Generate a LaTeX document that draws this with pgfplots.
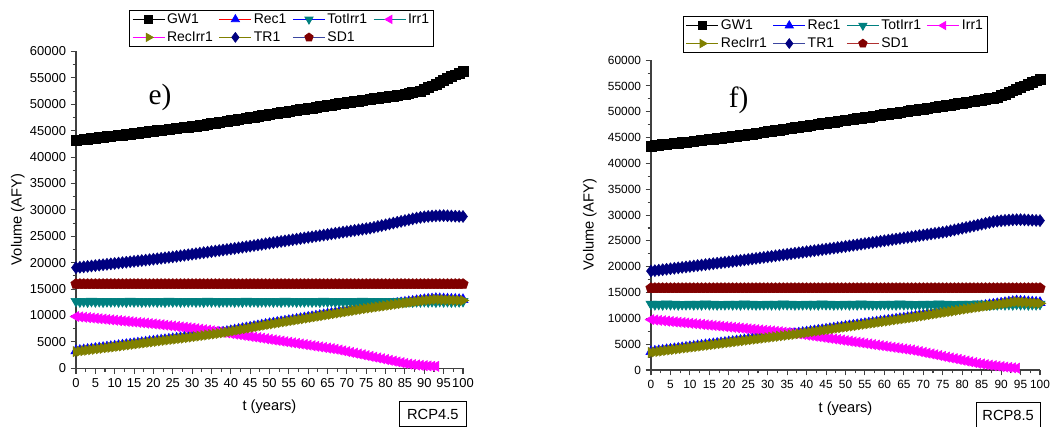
\documentclass[border=0pt]{standalone}
\usepackage{pgfplots}
\pgfplotsset{compat=1.18}
\usepackage{pgfplotstable}
\usepackage{fontspec}
\setmainfont{Liberation Sans}
\newfontfamily\seriffont{Liberation Serif}

\definecolor{cTeal}{HTML}{008080}
\definecolor{cMag}{HTML}{FF00FF}
\definecolor{cOlive}{HTML}{808000}
\definecolor{cNavy}{HTML}{000080}
\definecolor{cWine}{HTML}{800000}
\definecolor{cSlate}{HTML}{3C46A0}
\definecolor{cBrick}{HTML}{B03030}
\definecolor{cAxis}{HTML}{404040}

% RCP4.5 scenario, yearly values (AFY)
\pgfplotstableread{
t GW Rec Tot Irr RecIrr TR SD
0 43200 3300 12700 9800 3150 19050 15950
1 43280 3390 12620 9730 3240 19130 15950
2 43370 3480 12680 9660 3330 19210 15950
3 43450 3570 12600 9590 3420 19290 15950
4 43530 3660 12720 9520 3510 19370 15950
5 43620 3750 12640 9450 3600 19450 15950
6 43700 3840 12690 9380 3690 19530 15950
7 43780 3930 12610 9310 3780 19610 15950
8 43870 4020 12670 9240 3870 19690 15950
9 43950 4110 12650 9170 3960 19770 15950
10 44030 4200 12700 9100 4050 19850 15950
11 44120 4300 12620 9030 4150 19930 15950
12 44200 4390 12680 8960 4240 20010 15950
13 44280 4490 12600 8890 4340 20090 15950
14 44370 4580 12720 8820 4430 20170 15950
15 44450 4680 12640 8750 4530 20250 15950
16 44540 4770 12690 8680 4620 20330 15950
17 44630 4870 12610 8610 4720 20410 15950
18 44720 4960 12670 8540 4810 20490 15950
19 44810 5060 12650 8470 4910 20570 15950
20 44900 5150 12700 8400 5000 20650 15950
21 45000 5240 12620 8320 5090 20740 15950
22 45090 5330 12680 8240 5180 20830 15950
23 45180 5420 12600 8160 5270 20920 15950
24 45270 5510 12720 8080 5360 21010 15950
25 45360 5600 12640 8000 5450 21100 15950
26 45450 5690 12690 7920 5540 21200 15950
27 45540 5780 12610 7840 5630 21300 15950
28 45630 5870 12670 7760 5720 21400 15950
29 45720 5960 12650 7680 5810 21500 15950
30 45810 6050 12700 7600 5900 21600 15950
31 45900 6150 12620 7500 6000 21700 15950
32 46000 6250 12680 7400 6100 21800 15950
33 46100 6350 12600 7300 6200 21900 15950
34 46210 6450 12720 7200 6300 22000 15950
35 46330 6550 12640 7100 6400 22100 15950
36 46440 6650 12690 7000 6500 22200 15950
37 46560 6750 12610 6900 6600 22300 15950
38 46680 6850 12670 6800 6700 22400 15950
39 46790 6980 12650 6690 6830 22500 15950
40 46910 7120 12700 6580 6970 22600 15950
41 47030 7250 12620 6470 7100 22700 15950
42 47140 7380 12680 6360 7230 22810 15950
43 47260 7520 12600 6250 7370 22920 15950
44 47380 7650 12720 6140 7500 23030 15950
45 47490 7780 12640 6030 7630 23140 15950
46 47610 7920 12690 5920 7770 23250 15950
47 47730 8050 12610 5810 7900 23360 15950
48 47840 8180 12670 5700 8030 23470 15950
49 47960 8320 12650 5590 8170 23580 15950
50 48080 8450 12700 5480 8300 23690 15950
51 48190 8570 12620 5370 8420 23800 15950
52 48300 8690 12680 5260 8540 23910 15950
53 48420 8810 12600 5150 8660 24020 15950
54 48530 8930 12720 5040 8780 24130 15950
55 48640 9050 12640 4930 8900 24240 15950
56 48760 9170 12690 4820 9020 24350 15950
57 48870 9290 12610 4710 9140 24460 15950
58 48980 9410 12670 4600 9260 24570 15950
59 49100 9530 12650 4490 9380 24680 15950
60 49210 9650 12700 4380 9500 24790 15950
61 49320 9770 12620 4270 9620 24900 15950
62 49430 9890 12680 4160 9740 25010 15950
63 49550 10010 12600 4050 9860 25120 15950
64 49660 10140 12720 3940 9990 25230 15950
65 49770 10260 12640 3830 10110 25340 15950
66 49890 10380 12690 3720 10230 25450 15950
67 50000 10500 12610 3610 10350 25560 15950
68 50110 10620 12670 3460 10470 25670 15950
69 50210 10740 12650 3310 10590 25780 15950
70 50320 10860 12700 3160 10710 25890 15950
71 50430 10970 12620 3010 10820 26000 15950
72 50530 11090 12680 2860 10940 26110 15950
73 50640 11210 12600 2710 11060 26220 15950
74 50740 11330 12720 2560 11180 26330 15950
75 50850 11450 12640 2410 11300 26440 15950
76 50960 11560 12690 2260 11410 26550 15950
77 51060 11660 12610 2110 11510 26700 15950
78 51170 11770 12670 1960 11620 26860 15950
79 51270 11870 12650 1810 11720 27020 15950
80 51380 11980 12700 1660 11830 27180 15950
81 51490 12080 12620 1510 11930 27340 15950
82 51590 12190 12680 1360 12040 27500 15950
83 51700 12290 12600 1210 12140 27660 15950
84 51800 12400 12720 1060 12250 27820 15950
85 51910 12500 12640 920 12350 27980 15950
86 52060 12600 12690 800 12450 28140 15950
87 52220 12700 12610 700 12550 28300 15950
88 52370 12800 12670 620 12650 28450 15950
89 52530 12900 12650 550 12750 28580 15950
90 52800 13000 12700 490 12850 28680 15950
91 53150 13070 12620 440 12920 28760 15950
92 53500 13130 12680 400 12980 28820 15950
93 53850 13200 12600 370 13050 28870 15950
94 54200 13170 12720 nan 13020 28900 15950
95 54550 13130 12640 nan 12980 28910 15950
96 54900 13100 12690 nan 12950 28880 15950
97 55250 13070 12610 nan 12920 28840 15950
98 55600 13050 12670 nan 12900 28800 15950
99 55950 13020 12650 nan 12870 28770 15950
100 56300 13000 12700 nan 12850 28750 15950
}\rcpfour

% RCP8.5 scenario, yearly values (AFY)
\pgfplotstableread{
t GW Rec Tot Irr RecIrr TR SD
0 43400 3550 12780 9750 3400 19150 15850
1 43480 3640 12700 9680 3490 19240 15850
2 43560 3740 12760 9610 3590 19330 15850
3 43640 3830 12690 9540 3680 19420 15850
4 43720 3930 12800 9460 3780 19510 15850
5 43800 4020 12720 9390 3870 19600 15850
6 43880 4120 12750 9320 3970 19690 15850
7 43960 4210 12680 9250 4060 19780 15850
8 44040 4310 12740 9180 4160 19870 15850
9 44120 4400 12710 9110 4250 19960 15850
10 44200 4500 12780 9040 4350 20050 15850
11 44290 4590 12700 8970 4440 20140 15850
12 44380 4690 12760 8900 4540 20230 15850
13 44480 4780 12690 8830 4630 20320 15850
14 44570 4880 12800 8750 4730 20410 15850
15 44660 4970 12720 8680 4820 20500 15850
16 44760 5070 12750 8610 4920 20590 15850
17 44850 5160 12680 8540 5010 20680 15850
18 44940 5260 12740 8470 5110 20770 15850
19 45030 5350 12710 8400 5200 20860 15850
20 45130 5450 12780 8330 5300 20950 15850
21 45220 5540 12700 8260 5390 21040 15850
22 45310 5640 12760 8190 5490 21130 15850
23 45410 5730 12690 8120 5580 21220 15850
24 45500 5830 12800 8040 5680 21310 15850
25 45610 5920 12720 7970 5770 21410 15850
26 45720 6020 12750 7900 5870 21510 15850
27 45830 6110 12680 7830 5960 21610 15850
28 45940 6210 12740 7760 6060 21710 15850
29 46050 6300 12710 7690 6150 21810 15850
30 46160 6400 12780 7620 6250 21910 15850
31 46270 6490 12700 7550 6340 22010 15850
32 46380 6590 12760 7480 6440 22110 15850
33 46490 6680 12690 7410 6530 22210 15850
34 46600 6780 12800 7330 6630 22310 15850
35 46710 6870 12720 7260 6720 22410 15850
36 46820 6960 12750 7190 6810 22510 15850
37 46930 7050 12680 7100 6900 22610 15850
38 47040 7160 12740 6990 7010 22710 15850
39 47150 7270 12710 6880 7120 22810 15850
40 47260 7370 12780 6770 7220 22910 15850
41 47370 7480 12700 6660 7330 23010 15850
42 47480 7590 12760 6550 7440 23110 15850
43 47590 7700 12690 6450 7550 23210 15850
44 47700 7800 12800 6340 7650 23310 15850
45 47810 7910 12720 6230 7760 23410 15850
46 47920 8020 12750 6120 7870 23510 15850
47 48030 8130 12680 6010 7980 23610 15850
48 48140 8240 12740 5910 8090 23710 15850
49 48250 8340 12710 5800 8190 23820 15850
50 48350 8450 12780 5690 8300 23930 15850
51 48460 8560 12700 5580 8410 24040 15850
52 48570 8670 12760 5470 8520 24150 15850
53 48680 8770 12690 5370 8620 24260 15850
54 48790 8880 12800 5260 8730 24370 15850
55 48900 8990 12720 5150 8840 24480 15850
56 49010 9100 12750 5040 8950 24590 15850
57 49120 9200 12680 4930 9050 24700 15850
58 49230 9310 12740 4830 9160 24810 15850
59 49340 9420 12710 4720 9270 24920 15850
60 49450 9530 12780 4610 9380 25030 15850
61 49560 9630 12700 4500 9480 25140 15850
62 49670 9740 12760 4390 9590 25250 15850
63 49780 9850 12690 4290 9700 25360 15850
64 49890 9960 12800 4180 9810 25470 15850
65 50000 10060 12720 4070 9910 25580 15850
66 50110 10170 12750 3960 10020 25690 15850
67 50220 10280 12680 3870 10130 25800 15850
68 50330 10400 12740 3720 10250 25910 15850
69 50440 10520 12710 3570 10370 26020 15850
70 50550 10630 12780 3410 10480 26130 15850
71 50660 10750 12700 3260 10600 26240 15850
72 50770 10870 12760 3110 10720 26350 15850
73 50880 10990 12690 2960 10840 26460 15850
74 50990 11110 12800 2810 10960 26570 15850
75 51100 11230 12720 2650 11080 26680 15850
76 51220 11350 12750 2500 11200 26800 15850
77 51340 11460 12680 2350 11310 26960 15850
78 51460 11580 12740 2200 11430 27120 15850
79 51580 11700 12710 2050 11550 27280 15850
80 51700 11820 12780 1890 11670 27440 15850
81 51820 11940 12700 1740 11790 27600 15850
82 51940 12060 12760 1590 11910 27760 15850
83 52060 12170 12690 1440 12020 27920 15850
84 52180 12290 12800 1290 12140 28080 15850
85 52300 12400 12720 1170 12250 28240 15850
86 52420 12510 12750 1050 12360 28400 15850
87 52540 12620 12680 940 12470 28560 15850
88 52660 12730 12740 840 12580 28720 15850
89 52800 12840 12710 750 12690 28820 15850
90 53120 12940 12780 660 12790 28900 15850
91 53440 13050 12700 580 12900 28970 15850
92 53760 13160 12760 500 13010 29030 15850
93 54080 13270 12690 420 13120 29080 15850
94 54400 13380 12800 350 13230 29110 15850
95 54720 13330 12720 nan 13180 29110 15850
96 55040 13270 12750 nan 13120 29080 15850
97 55360 13220 12680 nan 13070 29040 15850
98 55680 13170 12740 nan 13020 29000 15850
99 56000 13110 12710 nan 12960 28960 15850
100 56300 13060 12780 nan 12910 28930 15850
}\rcpeight

\pgfplotsset{
  panel/.style={
    scale only axis,
    axis lines=left,
    axis line style={-, line width=1pt, draw=cAxis},
    xmin=0, xmax=100, ymin=0, ymax=60000,
    xtick={0,5,...,100}, ytick={0,5000,...,60000},
    minor x tick num=1, minor y tick num=1,
    tick align=outside,
    major tick length=4pt, minor tick length=2.5pt,
    every tick/.style={draw=cAxis, line width=0.8pt},
    scaled y ticks=false,
    /pgf/number format/1000 sep={},
    /pgf/number format/assume math mode=true,
    clip=false,
    xlabel={t (years)}, ylabel={Volume (AFY)},
    label style={font=\fontsize{11}{13}\selectfont},
    legend columns=4,
    legend cell align=left,
    legend style={draw=black, line width=0.6pt, inner xsep=2pt, inner ysep=0pt,
      font=\fontsize{10.5}{12}\selectfont, row sep=0pt,
      nodes={inner sep=1.5pt, text height=8pt, text depth=2.5pt},
      /tikz/every odd column/.append style={column sep=0pt},
      /tikz/every even column/.append style={column sep=3pt}},
  },
  legline/.style={legend image code/.code={
    \draw[line width=0.7pt, draw=#1] (0pt,0pt) -- (24pt,0pt);
    \draw[only marks, every mark/.append style={scale=0.8}] plot coordinates {(12pt,0pt)};}},
  sGW/.style={only marks, mark=square*, mark size=3.7pt, color=black},
  sRec/.style={only marks, mark=triangle*, mark size=4.4pt, color=blue},
  sTot/.style={only marks, mark=triangle*, mark size=4.4pt, color=cTeal, mark options={rotate=180}},
  sIrr/.style={only marks, mark=triangle*, mark size=4.4pt, color=cMag, mark options={rotate=90}},
  sRecIrr/.style={only marks, mark=triangle*, mark size=4.4pt, color=cOlive, mark options={rotate=-90}},
  sTR/.style={only marks, mark=diamond*, mark size=4.5pt, color=cNavy},
  sSD/.style={only marks, mark=pentagon*, mark size=4.1pt, color=cWine},
}

\begin{document}
\begin{tikzpicture}
\path[use as bounding box] (0pt,0pt) rectangle (793.5pt,319.5pt);

% left panel: RCP4.5
\begin{axis}[panel,
  at={(57pt,43.3pt)}, anchor=south west,
  width=290.25pt, height=237.6pt,
  tick label style={font=\fontsize{9.7}{11}\selectfont},
  xlabel style={at={(axis description cs:0.5,-0.121)}, anchor=center},
  ylabel style={at={(axis description cs:-0.150,0.47)}, anchor=center},
  legend style={at={(axis description cs:0.137,1.131)}, anchor=north west},
]
\addplot[sGW, legline=black] table[x=t, y=GW] {\rcpfour};
\addplot[sRec, legline=red] table[x=t, y=Rec] {\rcpfour};
\addplot[sTot, legline=blue] table[x=t, y=Tot] {\rcpfour};
\addplot[sIrr, legline=cTeal] table[x=t, y=Irr] {\rcpfour};
\addplot[sRecIrr, legline=cMag] table[x=t, y=RecIrr] {\rcpfour};
\addplot[sTR, legline=cOlive] table[x=t, y=TR] {\rcpfour};
\addplot[sSD, legline=cSlate] table[x=t, y=SD] {\rcpfour};
\legend{GW1, Rec1, TotIrr1, Irr1, RecIrr1, TR1, SD1}
\node[font=\seriffont\fontsize{22}{24}\selectfont] at (axis description cs:0.217,0.856) {e)};
\node[draw=black, line width=0.6pt, anchor=north, minimum width=50pt, minimum height=19pt,
  inner sep=2pt, font=\fontsize{11}{13}\selectfont] at (axis description cs:0.922,-0.103) {RCP4.5};
\end{axis}

% right panel: RCP8.5
\begin{axis}[panel,
  at={(488.25pt,42pt)}, anchor=south west,
  width=291.75pt, height=232.4pt,
  tick label style={font=\fontsize{8.9}{10}\selectfont},
  xlabel style={at={(axis description cs:0.5,-0.126)}, anchor=center},
  ylabel style={at={(axis description cs:-0.157,0.47)}, anchor=center},
  legend style={at={(axis description cs:0.082,1.142)}, anchor=north west},
]
\addplot[sGW, legline=black] table[x=t, y=GW] {\rcpeight};
\addplot[sRec, legline=blue] table[x=t, y=Rec] {\rcpeight};
\addplot[sTot, legline=cTeal] table[x=t, y=Tot] {\rcpeight};
\addplot[sIrr, legline=cMag] table[x=t, y=Irr] {\rcpeight};
\addplot[sRecIrr, legline=cOlive] table[x=t, y=RecIrr] {\rcpeight};
\addplot[sTR, legline=cSlate] table[x=t, y=TR] {\rcpeight};
\addplot[sSD, legline=cBrick] table[x=t, y=SD] {\rcpeight};
\legend{GW1, Rec1, TotIrr1, Irr1, RecIrr1, TR1, SD1}
\node[font=\seriffont\fontsize{22}{24}\selectfont] at (axis description cs:0.225,0.870) {f)};
\node[draw=black, line width=0.6pt, anchor=north, minimum width=48pt, minimum height=19pt,
  inner sep=2pt, font=\fontsize{11}{13}\selectfont] at (axis description cs:0.918,-0.103) {RCP8.5};
\end{axis}
\end{tikzpicture}
\end{document}
